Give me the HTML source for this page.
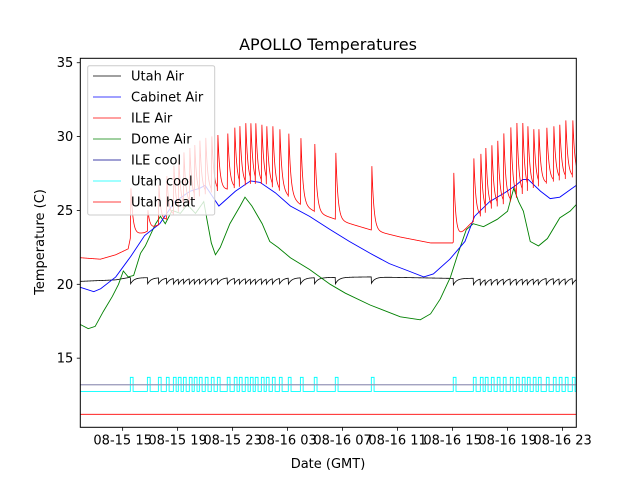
<!DOCTYPE html>
<html><head><meta charset="utf-8"><style>
body{margin:0;background:#fff}
svg text{font-family:"DejaVu Sans","Liberation Sans",sans-serif;fill:#000}
</style></head><body>
<svg id="chart" width="640" height="480" viewBox="0 0 640 480" xmlns="http://www.w3.org/2000/svg">
<rect x="0" y="0" width="640" height="480" fill="#fff"/>
<text x="328" y="50" font-size="16" text-anchor="middle">APOLLO Temperatures</text>
<text x="328" y="468" font-size="13" text-anchor="middle">Date (GMT)</text>
<text transform="translate(44,242) rotate(-90)" font-size="13" text-anchor="middle">Temperature (C)</text>
<g id="plot"></g>
<g id="axes"></g>
<g id="legend"></g>
</svg>
<script>
// ---- data ----
const xTickHours = [15,19,23,27,31,35,39,43,47];
const xTickLabels = ["08-15 15","08-15 19","08-15 23","08-16 03","08-16 07","08-16 11","08-16 15","08-16 19","08-16 23"];
const yTicks = [15,20,25,30,35];
// heater/cooler event times (hours since 08-15 00:00)
const eventHours = [15.56,16.80,17.60,18.18,18.69,19.05,19.42,19.85,20.21,20.58,21.01,21.45,21.89,22.61,23.12,23.49,23.92,24.29,24.65,25.09,25.45,25.89,26.40,27.05,27.93,28.94,30.47,33.09,39.05,40.51,41.02,41.38,41.82,42.25,42.69,43.20,43.64,44.07,44.44,44.87,45.24,45.82,46.33,46.76,47.20,47.71];
const ileAirPeaks = [26.5,25.0,26.7,27.3,28.0,28.5,28.9,29.2,29.4,29.7,29.9,30.0,30.1,30.2,30.6,30.7,30.9,30.9,30.9,30.8,30.7,30.7,30.5,30.2,29.9,29.5,28.9,28.0,27.5,28.5,28.8,29.2,29.4,29.7,30.2,30.6,30.9,30.9,30.7,30.5,30.5,30.6,30.7,30.8,31.1,31.1];
const ileAirBaseHours = [11.92,13.38,14.5,15.4,15.6,16.6,17.74,19.2,20.65,21.75,22.85,24.3,25.4,26.47,27.92,29.38,30.83,33.0,35.2,37.4,39.0,40.3,41.75,43.2,44.65,46.1,48.0];
const ileAirBaseValues = [21.8,21.7,22.0,22.4,23.3,23.5,24.1,25.0,26.0,26.3,26.45,26.8,26.8,26.3,25.4,24.75,24.3,23.7,23.2,22.8,22.8,24.1,25.1,25.6,26.45,26.9,27.3];
const cabinetHours = [11.92,12.9,13.4,14.5,15.6,16.6,17.7,18.8,19.9,20.6,21.0,22.0,23.2,24.3,25.0,26.1,27.2,28.6,30.1,31.5,33.0,34.4,35.8,36.9,37.6,38.8,39.9,40.6,41.7,42.8,43.6,44.1,44.5,45.4,46.1,46.8,48.0];
const cabinetValues = [19.8,19.5,19.7,20.5,21.9,23.3,24.1,25.6,26.3,26.5,26.7,25.3,26.3,27.0,26.9,26.2,25.3,24.6,23.7,22.9,22.1,21.4,20.9,20.5,20.7,21.7,22.9,24.6,25.6,26.2,26.7,27.1,27.1,26.3,25.8,25.9,26.7];
const domeHours = [11.92,12.5,13.0,13.6,14.25,14.7,15.05,15.4,15.8,16.3,16.65,17.4,17.75,18.1,18.6,19.2,19.7,20.3,20.9,21.15,21.45,21.75,22.1,22.8,23.55,23.9,24.4,25.15,25.7,26.3,27.2,28.6,30.1,31.2,33.0,35.2,36.65,37.4,38.1,38.85,39.4,40.0,40.5,41.25,42.25,43.0,43.45,43.8,44.15,44.65,45.25,45.9,46.8,47.55,48.0];
const domeValues = [17.28,17.0,17.15,18.17,19.18,20.0,20.9,20.5,20.6,22.1,22.6,24.1,24.6,24.1,25.0,24.8,25.4,24.8,25.6,24.3,22.8,22.0,22.5,24.1,25.3,25.9,25.3,24.1,22.9,22.5,21.8,21.0,20.0,19.4,18.6,17.8,17.6,18.0,19.0,20.5,22.1,23.7,24.1,23.9,24.4,24.95,26.5,25.6,24.95,22.9,22.6,23.1,24.5,24.95,25.4];
const utahAirBaseHours = [11.92,14.5,15.4,28.9,33.0,39.0,48.0];
const utahAirBaseValues = [20.2,20.3,20.45,20.45,20.5,20.4,20.45];
const utahAirDip = 0.45;
const utahCoolLow = 12.75, utahCoolHigh = 13.7;
const ileCoolLevel = 13.2;
const utahHeatLevel = 11.2;

// ---- axes ----
const X0=80.3, X1=576.3, Y0=58.3, Y1=427.3;
const H0=11.92, H1=48.0, V0=10.32, V1=35.3;
function xs(h){return X0+(h-H0)/(H1-H0)*(X1-X0);}
function ys(v){return Y1-(v-V0)/(V1-V0)*(Y1-Y0);}
function interp(hs,vs,t){
  if(t<=hs[0])return vs[0];
  for(let i=1;i<hs.length;i++){if(t<=hs[i]){const f=(t-hs[i-1])/(hs[i]-hs[i-1]);return vs[i-1]+f*(vs[i]-vs[i-1]);}}
  return vs[vs.length-1];
}
const NS="http://www.w3.org/2000/svg";
const plot=document.getElementById('plot');
const axes=document.getElementById('axes');
const legend=document.getElementById('legend');
function mk(tag,attrs,parent){const e=document.createElementNS(NS,tag);for(const k in attrs)e.setAttribute(k,attrs[k]);parent.appendChild(e);return e;}
function pathFrom(pts){return pts.map((p,i)=>(i?'L':'M')+xs(p[0]).toFixed(2)+' '+ys(p[1]).toFixed(2)).join('');}

const clip=mk('clipPath',{id:'clipP'},document.getElementById('chart'));
mk('rect',{x:X0,y:Y0,width:X1-X0,height:Y1-Y0},clip);
plot.setAttribute('clip-path','url(#clipP)');

// Utah heat (constant)
let p=mk('path',{d:pathFrom([[H0,utahHeatLevel],[H1,utahHeatLevel]]),stroke:'#ff0000','stroke-width':0.9,fill:'none'},plot);



// Utah cool (step pulses)
{const pts=[[H0,utahCoolLow]];
 eventHours.forEach(t=>{pts.push([t,utahCoolLow],[t,utahCoolHigh],[t+0.2,utahCoolHigh],[t+0.2,utahCoolLow]);});
 pts.push([H1,utahCoolLow]);
 p=mk('path',{d:pathFrom(pts),stroke:'#00ffff','stroke-width':0.9,fill:'none'},plot);
 
 }

// ILE cool (constant)
p=mk('path',{d:pathFrom([[H0,ileCoolLevel],[H1,ileCoolLevel]]),stroke:'#9696b8','stroke-width':1.3,fill:'none'},plot);



// Utah Air (sawtooth)
{const pts=[];
 for(let t=H0;t<=H1+1e-9;t+=0.02){
   let last=-1;for(let i=0;i<eventHours.length;i++){if(eventHours[i]<=t)last=i;}
   let v=interp(utahAirBaseHours,utahAirBaseValues,t);
   if(last>=0){const dt=t-eventHours[last];v-=utahAirDip*Math.exp(-dt/0.25);}
   pts.push([t,v]);}
 p=mk('path',{d:pathFrom(pts),stroke:'#000','stroke-width':0.8,fill:'none'},plot);
 
 }

// Dome Air
p=mk('path',{d:pathFrom(domeHours.map((h,i)=>[h,domeValues[i]])),stroke:'#008000','stroke-width':0.9,fill:'none'},plot);



// Cabinet Air
p=mk('path',{d:pathFrom(cabinetHours.map((h,i)=>[h,cabinetValues[i]])),stroke:'#0000ff','stroke-width':0.9,fill:'none'},plot);



// ILE Air (spikes decaying to baseline)
{const pts=[];let ev=0;let lastT=null,lastAmp=0;
 for(let t=H0;t<=H1+1e-9;t+=0.01){
   while(ev<eventHours.length&&eventHours[ev]<=t){
     const te=eventHours[ev];const b=interp(ileAirBaseHours,ileAirBaseValues,te);
     pts.push([te,b]);pts.push([te+0.04,ileAirPeaks[ev]]);
     lastT=te+0.04;lastAmp=ileAirPeaks[ev]-b;ev++;}
   let v=interp(ileAirBaseHours,ileAirBaseValues,t);
   if(lastT!==null&&t>=lastT)v+=lastAmp*Math.exp(-(t-lastT)/0.15);
   if(lastT===null||t>=lastT)pts.push([t,v]);}
 p=mk('path',{d:pathFrom(pts),stroke:'#ff0000','stroke-width':0.8,fill:'none'},plot);
 
 }

// frame + ticks
mk('rect',{x:X0,y:Y0,width:X1-X0,height:Y1-Y0,fill:'none',stroke:'#000','stroke-width':1},axes);
xTickHours.forEach((h,i)=>{
  const x=xs(h);
  mk('line',{x1:x,x2:x,y1:Y1,y2:Y1+3.5,stroke:'#000','stroke-width':0.8},axes);
  const t=mk('text',{x:x,y:Y1+17,'font-size':'13','text-anchor':'middle'},axes);
  t.textContent=xTickLabels[i];
  
  
});
yTicks.forEach(v=>{
  const y=ys(v);
  mk('line',{x1:X0-3.5,x2:X0,y1:y,y2:y,stroke:'#000','stroke-width':0.8},axes);
  const t=mk('text',{x:X0-7,y:y+4.5,'font-size':'13','text-anchor':'end'},axes);
  t.textContent=String(v);
  
  
});

// legend
const legNames=["Utah Air","Cabinet Air","ILE Air","Dome Air","ILE cool","Utah cool","Utah heat"];
const legColors=["#000000","#0000ff","#ff0000","#008000","#00008b","#00ffff","#ff0000"];
mk('rect',{x:87.7,y:65.7,width:127,height:149.3,rx:2,fill:'rgba(255,255,255,0.8)',stroke:'#cccccc','stroke-width':1},legend);
legNames.forEach((n,i)=>{
  const y=76+i*21;
  const g=mk('g',{},legend);
  
  
  mk('line',{x1:93,x2:121,y1:y,y2:y,stroke:legColors[i],'stroke-width':0.8},g);
  const t=mk('text',{x:131,y:y+4.5,'font-size':'13'},g);
  t.textContent=n;
});
</script>
</body></html>
